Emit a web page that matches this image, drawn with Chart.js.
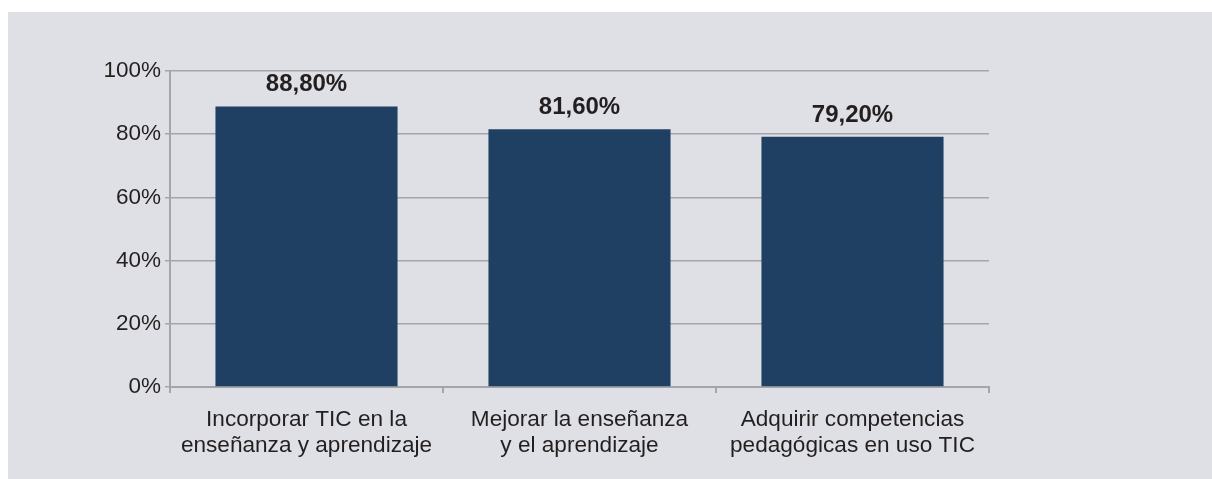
<!DOCTYPE html>
<html lang="es">
<head>
<meta charset="utf-8">
<title>Objetivos TIC</title>
<script src="https://cdn.jsdelivr.net/npm/chart.js@4.4.1/dist/chart.umd.min.js"></script>
<style>
  html, body { margin: 0; padding: 0; background: #ffffff; }
  .panel {
    position: absolute;
    left: 8px;
    top: 12px;
    width: 1204px;
    height: 467px;
    background: #dfe0e5;
  }
</style>
</head>
<body>
<div class="panel">
  <canvas id="ticChart"></canvas>
</div>
<script>
// Kategorien (zweizeilig wie im Original)
const categories = [
  ["Incorporar TIC en la", "enseñanza y aprendizaje"],
  ["Mejorar la enseñanza", "y el aprendizaje"],
  ["Adquirir competencias", "pedagógicas en uso TIC"]
];

// Werte in Prozent
const values = [88.8, 81.6, 79.2];

// Achsenbereich
const yMin = 0;
const yMax = 100;
const yStep = 20;

const textColor = "#231f20";
const gridColor = "#a4a5a9";
const barColor = "#1f4063";

function formatPercent(v) {
  return v.toFixed(2).replace(".", ",") + "%";
}

// Beschriftung über den Balken
const valueLabels = {
  id: "valueLabels",
  afterDatasetsDraw(chart) {
    const ctx = chart.ctx;
    const meta = chart.getDatasetMeta(0);
    ctx.save();
    ctx.font = "bold 24px 'Liberation Sans', Arial, sans-serif";
    ctx.fillStyle = textColor;
    ctx.textAlign = "center";
    ctx.textBaseline = "alphabetic";
    meta.data.forEach((bar, i) => {
      ctx.fillText(formatPercent(values[i]), bar.x, bar.y - 15);
    });
    ctx.restore();
  }
};

// eslint-disable-next-line no-undef
new Chart(document.getElementById("ticChart"), {
  type: "bar",
  data: {
    labels: categories,
    datasets: [{
      data: values,
      backgroundColor: barColor,
      borderWidth: 0,
      categoryPercentage: 1,
      barPercentage: 0.667
    }]
  },
  options: {
    responsive: true,
    maintainAspectRatio: false,
    animation: false,
    layout: {
      padding: { left: 0, top: 59, right: 223, bottom: 0 }
    },
    plugins: {
      legend: { display: false },
      tooltip: { enabled: false }
    },
    scales: {
      x: {
        offset: true,
        grid: {
          offset: true,
          drawOnChartArea: false,
          drawTicks: true,
          tickLength: 6,
          color: gridColor,
          lineWidth: 2
        },
        border: { display: true, color: gridColor, width: 2 },
        ticks: {
          color: textColor,
          padding: 14,
          maxRotation: 0,
          autoSkip: false,
          font: { family: "'Liberation Sans', Arial, sans-serif", size: 22.6, lineHeight: 1.15 }
        },
        afterFit(scale) {
          scale.height = 92;
        }
      },
      y: {
        min: yMin,
        max: yMax,
        grid: {
          color: gridColor,
          lineWidth: 1.5,
          tickLength: 5,
          drawTicks: true
        },
        border: { display: true, color: gridColor, width: 2 },
        ticks: {
          stepSize: yStep,
          color: textColor,
          padding: 4,
          font: { family: "'Liberation Sans', Arial, sans-serif", size: 22.5 },
          callback: v => v + "%"
        },
        afterFit(scale) {
          scale.width = 162;
        }
      }
    }
  },
  plugins: [valueLabels]
});
</script>
</body>
</html>
